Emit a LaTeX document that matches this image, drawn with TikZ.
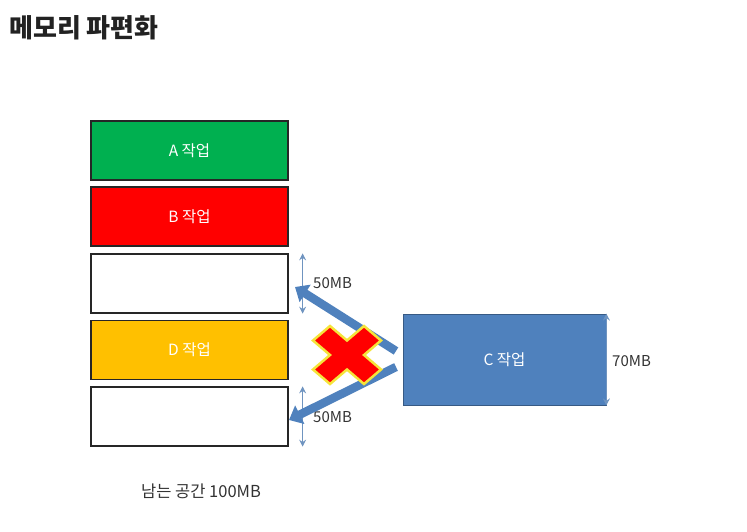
\documentclass[tikz,border=0pt]{standalone}
\usepackage{fontspec}
\setmainfont{Noto Sans CJK KR}
\usetikzlibrary{arrows.meta}
\definecolor{agreen}{HTML}{00B050}
\definecolor{bred}{HTML}{FF0000}
\definecolor{dorange}{HTML}{FFC000}
\definecolor{cblue}{HTML}{4F81BD}
\definecolor{dimblue}{HTML}{6F94C0}
\definecolor{titlecol}{HTML}{222222}
\definecolor{glow}{HTML}{F5E43A}
\tikzset{
  memblock/.style={draw=black!85, line width=1.2pt, minimum width=197pt, minimum height=59pt, inner sep=0pt, text=white, font=\fontsize{15.5}{17}\selectfont},
  dimarrow/.style={draw=dimblue, line width=1.4pt, {Stealth[length=7pt,width=7pt,inset=2.5pt]}-{Stealth[length=7pt,width=7pt,inset=2.5pt]}},
  movearrow/.style={draw=cblue, line width=8.5pt, -{Triangle[length=12pt,width=20pt]}},
  lbl/.style={font=\fontsize{15}{17}\selectfont, text=black!80, inner sep=0pt}
}
\begin{document}
\begin{tikzpicture}[x=1pt,y=-1pt]
\useasboundingbox (0,0) rectangle (747,532);
\node[anchor=west, font=\bfseries\fontsize{26}{30}\selectfont, text=titlecol, inner sep=0pt] (title) at (9,28) {메모리 파편화};
\node[memblock, fill=agreen] (A) at (189.5,150.5) {A 작업};
\node[memblock, fill=bred] (B) at (189.5,216.5) {B 작업};
\node[memblock, fill=white] (E1) at (189.5,283.5) {};
\node[memblock, fill=dorange] (D) at (189.5,350) {D 작업};
\node[memblock, fill=white] (E2) at (189.5,416.5) {};
\node[draw=cblue!70!black, line width=0.8pt, fill=cblue, minimum width=203pt, minimum height=91pt, inner sep=0pt, text=white, font=\fontsize{15.5}{17}\selectfont] (C) at (504.5,359.5) {C 작업};
% dimension arrows
\draw[dimarrow] ([xshift=14pt]E1.north east) -- ([xshift=14pt]E1.south east);
\draw[dimarrow] ([xshift=14pt]E2.north east) -- ([xshift=14pt]E2.south east);
\draw[dimarrow] (C.north east) -- (C.south east);
\node[lbl, anchor=west] (l1) at (313,283) {50MB};
\node[lbl, anchor=west] (l2) at (313,417) {50MB};
\node[lbl, anchor=west] (l3) at (612,361) {70MB};
% moving arrows
\coordinate (t1) at (396,351);
\coordinate (t2) at (396,367);
\coordinate (h1) at (295,287);
\coordinate (h2) at (289,420);
\draw[movearrow] (t1) -- (h1);
\draw[movearrow] (t2) -- (h2);
% red X
\begin{scope}[shift={(347,355)}, xscale=34, yscale=29]
\filldraw[draw=glow, line width=2.5pt, fill=bred, line join=miter]
 (-1,-0.5) -- (-0.5,-1) -- (0,-0.5) -- (0.5,-1) -- (1,-0.5) -- (0.5,0)
 -- (1,0.5) -- (0.5,1) -- (0,0.5) -- (-0.5,1) -- (-1,0.5) -- (-0.5,0) -- cycle;
\end{scope}
\node[font=\fontsize{16.5}{19}\selectfont, text=black!80, inner sep=0pt] (free) at (201,491) {남는 공간 100MB};
\end{tikzpicture}
\end{document}
